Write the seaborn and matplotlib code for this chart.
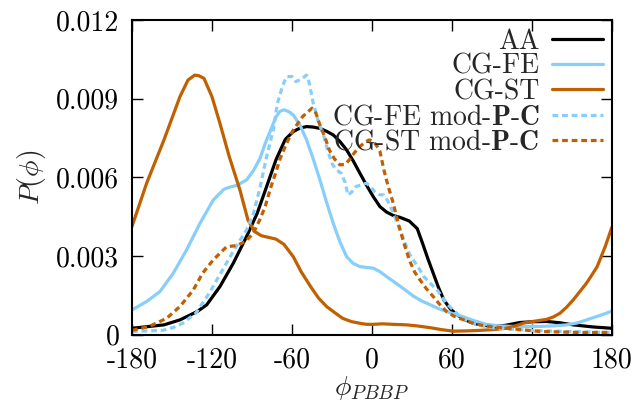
import matplotlib
matplotlib.use("Agg")
import matplotlib.pyplot as plt
import seaborn as sns

# valores
phi_aa = [-180, -156, -144, -131, -124, -114, -104, -94, -86, -79, -72, -65, -59, -54, -49, -44, -39, -34, -29, -24, -19, -14, -9, -4, 1, 6, 11, 16, 21, 28, 34, 38, 42, 46, 50, 54, 59, 64, 70, 76, 83, 91, 100, 111, 121, 131, 141, 151, 166, 180]
p_aa = [0.00025, 0.00038, 0.00057, 0.00089, 0.00114, 0.00184, 0.00273, 0.00375, 0.00464, 0.00565, 0.00667, 0.00745, 0.00775, 0.00788, 0.00794, 0.00792, 0.00787, 0.00776, 0.00762, 0.00737, 0.00705, 0.00663, 0.00616, 0.00570, 0.00527, 0.00489, 0.00468, 0.00455, 0.00448, 0.00434, 0.00405, 0.00349, 0.00290, 0.00235, 0.00180, 0.00133, 0.00098, 0.00076, 0.00057, 0.00044, 0.00037, 0.00032, 0.00036, 0.00047, 0.00050, 0.00051, 0.00046, 0.00038, 0.00030, 0.00025]

phi_fe = [-180, -169, -159, -149, -139, -129, -119, -111, -106, -101, -94, -89, -84, -80, -76, -72, -69, -66, -62, -59, -54, -49, -44, -39, -34, -29, -24, -19, -14, -9, -4, 1, 6, 11, 18, 24, 31, 37, 44, 50, 56, 62, 68, 76, 86, 96, 106, 116, 126, 136, 146, 154, 161, 170, 180]
p_fe = [0.00095, 0.00127, 0.00165, 0.00235, 0.00324, 0.00425, 0.00514, 0.00555, 0.00564, 0.00570, 0.00591, 0.00625, 0.00672, 0.00730, 0.00780, 0.00830, 0.00852, 0.00858, 0.00850, 0.00838, 0.00800, 0.00743, 0.00670, 0.00591, 0.00505, 0.00425, 0.00355, 0.00298, 0.00272, 0.00260, 0.00257, 0.00254, 0.00241, 0.00222, 0.00197, 0.00175, 0.00148, 0.00130, 0.00114, 0.00100, 0.00089, 0.00079, 0.00070, 0.00055, 0.00040, 0.00034, 0.00032, 0.00032, 0.00032, 0.00034, 0.00038, 0.00045, 0.00057, 0.00072, 0.00090]

phi_st = [-180, -169, -156, -144, -138, -133, -130, -126, -120, -114, -107, -99, -93, -88, -83, -78, -72, -66, -59, -53, -46, -40, -34, -28, -22, -15, -9, -4, 1, 8, 16, 26, 34, 44, 52, 61, 71, 81, 91, 101, 107, 114, 122, 131, 136, 141, 146, 151, 156, 161, 165, 169, 172, 175, 178, 180]
p_st = [0.00413, 0.00578, 0.00743, 0.00908, 0.00971, 0.00990, 0.00988, 0.00978, 0.00908, 0.00806, 0.00679, 0.00552, 0.00438, 0.00394, 0.00378, 0.00372, 0.00365, 0.00345, 0.00298, 0.00240, 0.00184, 0.00140, 0.00108, 0.00085, 0.00063, 0.00050, 0.00044, 0.00040, 0.00040, 0.00042, 0.00040, 0.00038, 0.00034, 0.00027, 0.00020, 0.00014, 0.00015, 0.00017, 0.00020, 0.00025, 0.00033, 0.00045, 0.00052, 0.00059, 0.00068, 0.00082, 0.00105, 0.00133, 0.00165, 0.00197, 0.00228, 0.00260, 0.00298, 0.00336, 0.00380, 0.00410]

phi_fe_mod = [-180, -157, -149, -142, -132, -122, -112, -102, -94, -89, -84, -79, -74, -71, -67, -64, -60, -57, -53, -49, -47, -44, -40, -36, -33, -30, -27, -23, -20, -18, -15, -12, -8, -4, -1, 2, 5, 9, 12, 16, 20, 24, 28, 31, 35, 39, 44, 49, 56, 61, 66, 72, 79, 86, 94, 106, 119, 131, 144, 160, 180]
p_fe_mod = [0.00013, 0.00017, 0.00028, 0.00044, 0.00083, 0.00159, 0.00248, 0.00336, 0.00400, 0.00460, 0.00560, 0.00680, 0.00780, 0.00880, 0.00950, 0.00984, 0.00985, 0.00965, 0.00975, 0.00990, 0.00960, 0.00882, 0.00810, 0.00756, 0.00700, 0.00654, 0.00630, 0.00616, 0.00580, 0.00533, 0.00545, 0.00565, 0.00572, 0.00578, 0.00565, 0.00546, 0.00535, 0.00533, 0.00510, 0.00464, 0.00415, 0.00362, 0.00310, 0.00286, 0.00255, 0.00222, 0.00195, 0.00171, 0.00120, 0.00095, 0.00070, 0.00052, 0.00038, 0.00030, 0.00025, 0.00021, 0.00017, 0.00015, 0.00013, 0.00011, 0.00009]

phi_st_mod = [-180, -167, -154, -144, -134, -127, -119, -109, -102, -95, -89, -84, -80, -76, -72, -69, -64, -59, -55, -52, -48, -45, -42, -39, -35, -32, -28, -24, -20, -17, -13, -9, -5, -2, 1, 4, 6, 9, 12, 16, 20, 24, 28, 32, 36, 41, 46, 51, 56, 62, 69, 75, 81, 91, 101, 113, 126, 141, 156, 180]
p_st_mod = [0.00017, 0.00032, 0.00063, 0.00108, 0.00171, 0.00235, 0.00286, 0.00336, 0.00340, 0.00355, 0.00387, 0.00440, 0.00490, 0.00560, 0.00620, 0.00670, 0.00730, 0.00781, 0.00810, 0.00832, 0.00850, 0.00864, 0.00845, 0.00800, 0.00750, 0.00705, 0.00670, 0.00648, 0.00650, 0.00667, 0.00695, 0.00718, 0.00735, 0.00743, 0.00738, 0.00718, 0.00700, 0.00629, 0.00570, 0.00502, 0.00420, 0.00350, 0.00286, 0.00240, 0.00210, 0.00175, 0.00146, 0.00115, 0.00089, 0.00070, 0.00057, 0.00046, 0.00038, 0.00030, 0.00025, 0.00019, 0.00013, 0.00011, 0.00009, 0.00009]

x_ticks = [-180, -120, -60, 0, 60, 120, 180]
x_tick_labels = ["-180", "-120", "-60", "0", "60", "120", "180"]
y_ticks = [0, 0.003, 0.006, 0.009, 0.012]
y_tick_labels = ["0", "0.003", "0.006", "0.009", "0.012"]

sns.set_style("ticks")
plt.rcParams["font.family"] = ["cmr10", "DejaVu Serif"]
plt.rcParams["mathtext.fontset"] = "cm"
plt.rcParams["axes.unicode_minus"] = False

fig, ax = plt.subplots(figsize=(6.36, 4.01), dpi=100)
fig.subplots_adjust(left=0.2075, right=0.962, top=0.95, bottom=0.165)

naranja = "#c06000"
azul = "#87cefa"
lw = 2.3
punteado = (0, (1.8, 1.2))

sns.lineplot(x=phi_aa, y=p_aa, ax=ax, color="black", lw=lw, label="AA")
sns.lineplot(x=phi_fe, y=p_fe, ax=ax, color=azul, lw=lw, label="CG-FE")
sns.lineplot(x=phi_st, y=p_st, ax=ax, color=naranja, lw=lw, label="CG-ST")
sns.lineplot(x=phi_fe_mod, y=p_fe_mod, ax=ax, color=azul, lw=lw,
             label=r"CG-FE mod-$\mathbf{P}$-$\mathbf{C}$")
sns.lineplot(x=phi_st_mod, y=p_st_mod, ax=ax, color=naranja, lw=lw,
             label=r"CG-ST mod-$\mathbf{P}$-$\mathbf{C}$")
for l in ax.lines[3:5]:
    l.set_linestyle(punteado)

ax.set_xlim(-180, 180)
ax.set_ylim(0, 0.012)
ax.set_xticks(x_ticks)
ax.set_xticklabels(x_tick_labels)
ax.set_yticks(y_ticks)
ax.set_yticklabels(y_tick_labels)
ax.tick_params(direction="in", length=8, width=1, top=True, right=True,
               labelsize=20, colors="black")
ax.tick_params(axis="y", pad=9)
ax.tick_params(axis="x", pad=9)
for s in ax.spines.values():
    s.set_linewidth(1.5)
    s.set_color("black")

ax.set_xlabel(r"$\phi_{PBBP}$", fontsize=20, labelpad=0)
ax.set_ylabel(r"$P(\phi)$", fontsize=20, labelpad=6)

leg = ax.legend(loc="upper right", frameon=False, markerfirst=False, fontsize=20,
                handlelength=1.85, handletextpad=0.45, labelspacing=-0.04,
                borderaxespad=0.2, borderpad=0.1)
for l in leg.get_lines():
    l.set_linewidth(lw)

fig.savefig("out.png", dpi=100)
